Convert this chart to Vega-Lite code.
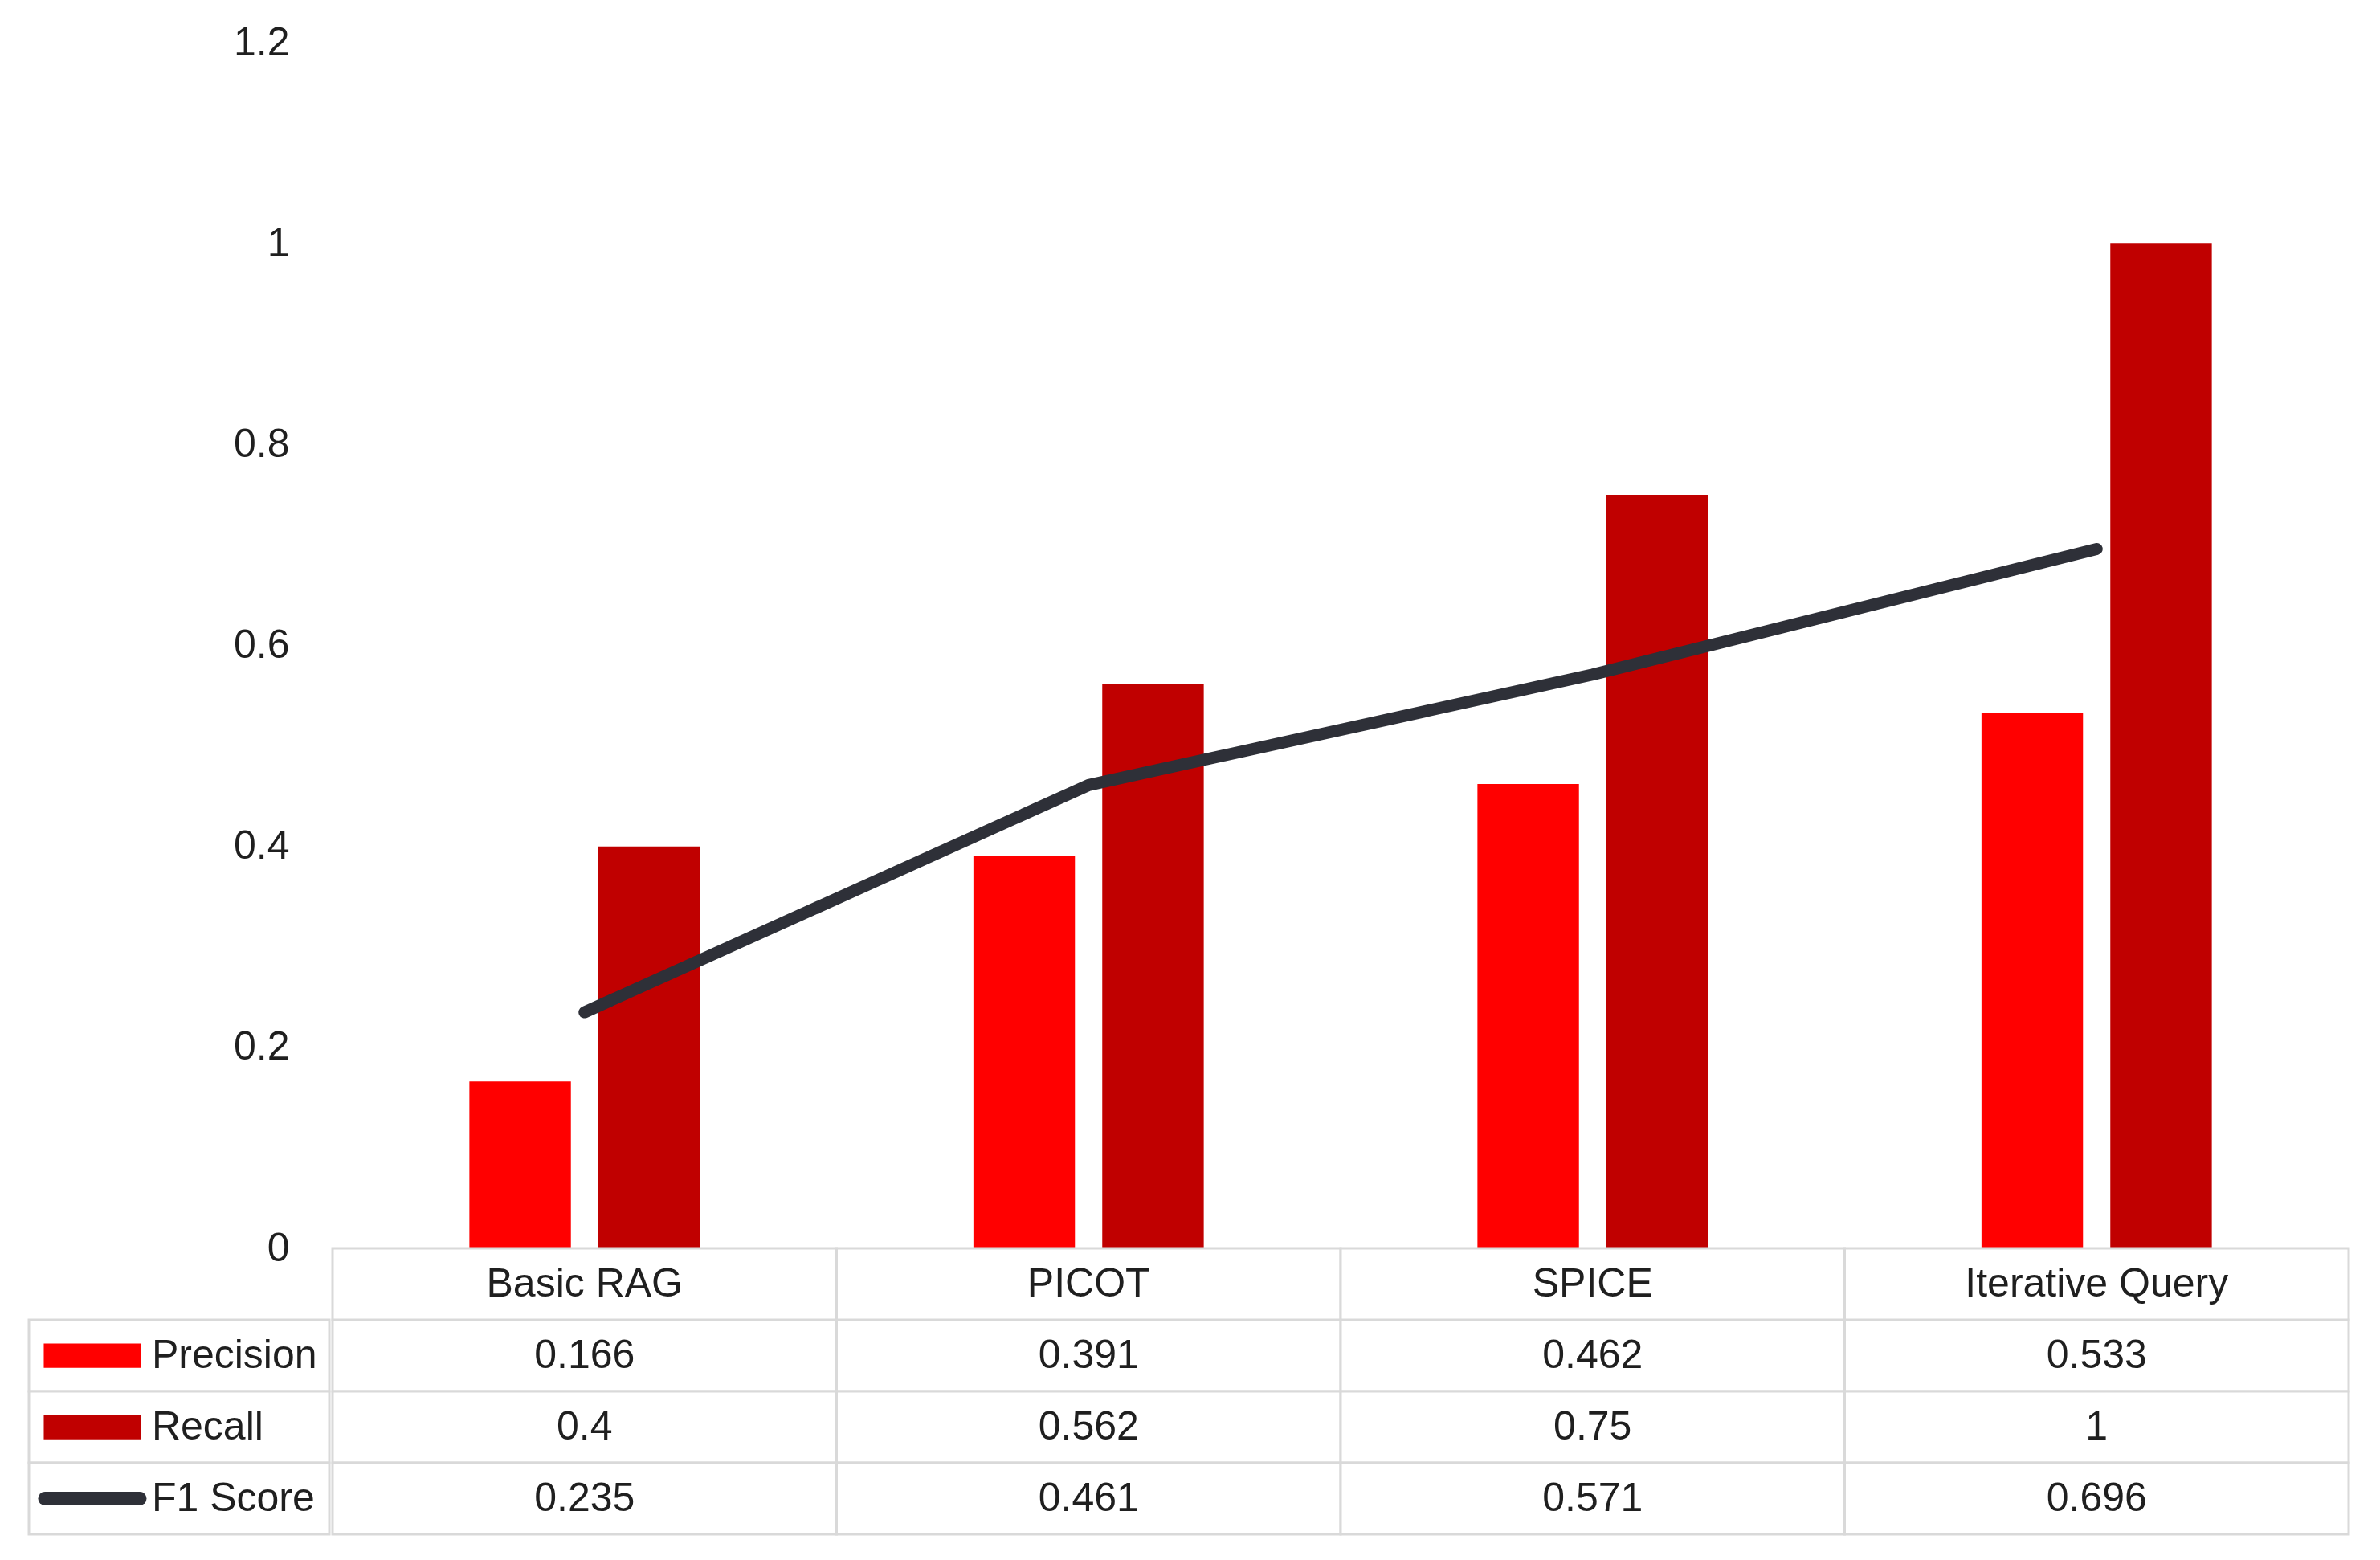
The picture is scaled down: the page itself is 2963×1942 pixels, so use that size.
{
  "$schema": "https://vega.github.io/schema/vega-lite/v6.json",
  "background": "white",
  "autosize": {"type": "pad"},
  "padding": {"top": 28, "left": 21, "right": 0, "bottom": 0},
  "config": {
    "view": {"stroke": null},
    "font": "Liberation Sans",
    "text": {"font": "Liberation Sans", "fontSize": 50, "color": "#1f1f1f"}
  },
  "datasets": {
    "scores": [
      {"method": "Basic RAG", "metric": "Precision", "value": 0.166},
      {"method": "Basic RAG", "metric": "Recall", "value": 0.4},
      {"method": "Basic RAG", "metric": "F1 Score", "value": 0.235},
      {"method": "PICOT", "metric": "Precision", "value": 0.391},
      {"method": "PICOT", "metric": "Recall", "value": 0.562},
      {"method": "PICOT", "metric": "F1 Score", "value": 0.461},
      {"method": "SPICE", "metric": "Precision", "value": 0.462},
      {"method": "SPICE", "metric": "Recall", "value": 0.75},
      {"method": "SPICE", "metric": "F1 Score", "value": 0.571},
      {"method": "Iterative Query", "metric": "Precision", "value": 0.533},
      {"method": "Iterative Query", "metric": "Recall", "value": 1},
      {"method": "Iterative Query", "metric": "F1 Score", "value": 0.696}
    ],
    "methods": [
      {"method": "Basic RAG"},
      {"method": "PICOT"},
      {"method": "SPICE"},
      {"method": "Iterative Query"}
    ],
    "metrics": [
      {"metric": "Precision"},
      {"metric": "Recall"},
      {"metric": "F1 Score"}
    ]
  },
  "spacing": 0,
  "hconcat": [
    {
      "spacing": 0,
      "bounds": "flush",
      "vconcat": [
        {
          "width": 374,
          "height": 1501,
          "data": {"name": "scores"},
          "mark": {"type": "point", "opacity": 0},
          "encoding": {
            "y": {
              "field": "value",
              "type": "quantitative",
              "scale": {"domain": [0, 1.2], "nice": false},
              "axis": {
                "values": [0, 0.2, 0.4, 0.6, 0.8, 1, 1.2],
                "format": "~g",
                "offset": -374,
                "domain": false,
                "ticks": false,
                "grid": false,
                "title": null,
                "labelPadding": 50,
                "labelFontSize": 50,
                "labelFont": "Liberation Sans",
                "labelColor": "#1f1f1f"
              }
            }
          }
        },
        {
          "width": 374,
          "height": 356,
          "data": {"name": "metrics"},
          "encoding": {
            "y": {
              "field": "metric",
              "type": "nominal",
              "scale": {"domain": ["Method", "Precision", "Recall", "F1 Score"], "paddingInner": 0, "paddingOuter": 0},
              "axis": null
            }
          },
          "layer": [
            {
              "mark": {"type": "rect", "fill": "white", "stroke": "#d9d9d9", "strokeWidth": 3}
            },
            {
              "transform": [{"filter": "datum.metric !== 'F1 Score'"}],
              "mark": {"type": "point", "filled": true, "opacity": 1, "shape": "M-1,-0.25H1V0.25H-1Z", "size": 14641},
              "encoding": {
                "x": {
                  "datum": "swatch",
                  "type": "nominal",
                  "scale": {"type": "band", "domain": ["swatch", "name"], "paddingInner": 0, "paddingOuter": 0.264, "align": 0.064},
                  "axis": null
                },
                "color": {
                  "field": "metric",
                  "type": "nominal",
                  "scale": {"domain": ["Precision", "Recall", "F1 Score"], "range": ["#ff0000", "#c00000", "#2e3038"]},
                  "legend": null
                }
              }
            },
            {
              "transform": [{"filter": "datum.metric === 'F1 Score'"}],
              "mark": {"type": "point", "filled": false, "opacity": 1, "shape": "M-1,0H1", "size": 13924, "strokeWidth": 17, "strokeCap": "round", "color": "#2e3038"},
              "encoding": {
                "x": {"datum": "swatch", "type": "nominal"}
              }
            },
            {
              "mark": {"type": "text", "align": "left", "baseline": "middle"},
              "encoding": {
                "x": {"datum": "name", "type": "nominal", "bandPosition": 0},
                "text": {"field": "metric", "type": "nominal"}
              }
            }
          ]
        }
      ]
    },
    {
      "spacing": 0,
      "bounds": "flush",
      "vconcat": [
        {
          "width": 2510,
          "height": 1501,
          "data": {"name": "scores"},
          "layer": [
            {
              "transform": [{"filter": "datum.metric !== 'F1 Score'"}],
              "mark": {"type": "bar"},
              "encoding": {
                "x": {
                  "field": "method",
                  "type": "nominal",
                  "sort": ["Basic RAG", "PICOT", "SPICE", "Iterative Query"],
                  "scale": {"paddingInner": 0.543, "paddingOuter": 0.2715},
                  "axis": null
                },
                "xOffset": {
                  "field": "metric",
                  "type": "nominal",
                  "sort": ["Precision", "Recall"],
                  "scale": {"paddingInner": 0.212, "paddingOuter": 0}
                },
                "y": {
                  "field": "value",
                  "type": "quantitative",
                  "scale": {"domain": [0, 1.2], "nice": false},
                  "axis": null
                },
                "color": {
                  "field": "metric",
                  "type": "nominal",
                  "scale": {"domain": ["Precision", "Recall", "F1 Score"], "range": ["#ff0000", "#c00000", "#2e3038"]},
                  "legend": null
                }
              }
            },
            {
              "transform": [{"filter": "datum.metric === 'F1 Score'"}],
              "mark": {"type": "line", "strokeWidth": 15, "strokeCap": "round", "strokeJoin": "round", "color": "#2e3038"},
              "encoding": {
                "x": {"field": "method", "type": "nominal", "sort": ["Basic RAG", "PICOT", "SPICE", "Iterative Query"]},
                "y": {"field": "value", "type": "quantitative"}
              }
            }
          ]
        },
        {
          "width": 2510,
          "height": 356,
          "layer": [
            {
              "data": {"name": "scores"},
              "mark": {"type": "rect", "fill": "white", "stroke": "#d9d9d9", "strokeWidth": 3},
              "encoding": {
                "x": {
                  "field": "method",
                  "type": "nominal",
                  "sort": ["Basic RAG", "PICOT", "SPICE", "Iterative Query"],
                  "scale": {"paddingInner": 0, "paddingOuter": 0},
                  "axis": null
                },
                "y": {
                  "field": "metric",
                  "type": "nominal",
                  "scale": {"domain": ["Method", "Precision", "Recall", "F1 Score"], "paddingInner": 0, "paddingOuter": 0},
                  "axis": null
                }
              }
            },
            {
              "data": {"name": "scores"},
              "mark": {"type": "text", "align": "center", "baseline": "middle"},
              "encoding": {
                "x": {"field": "method", "type": "nominal", "sort": ["Basic RAG", "PICOT", "SPICE", "Iterative Query"]},
                "y": {"field": "metric", "type": "nominal"},
                "text": {"field": "value", "type": "nominal"}
              }
            },
            {
              "data": {"name": "methods"},
              "mark": {"type": "rect", "fill": "white", "stroke": "#d9d9d9", "strokeWidth": 3},
              "encoding": {
                "x": {"field": "method", "type": "nominal", "sort": ["Basic RAG", "PICOT", "SPICE", "Iterative Query"]},
                "y": {"datum": "Method", "type": "nominal"}
              }
            },
            {
              "data": {"name": "methods"},
              "mark": {"type": "text", "align": "center", "baseline": "middle"},
              "encoding": {
                "x": {"field": "method", "type": "nominal", "sort": ["Basic RAG", "PICOT", "SPICE", "Iterative Query"]},
                "y": {"datum": "Method", "type": "nominal"},
                "text": {"field": "method", "type": "nominal"}
              }
            }
          ]
        }
      ]
    }
  ]
}
